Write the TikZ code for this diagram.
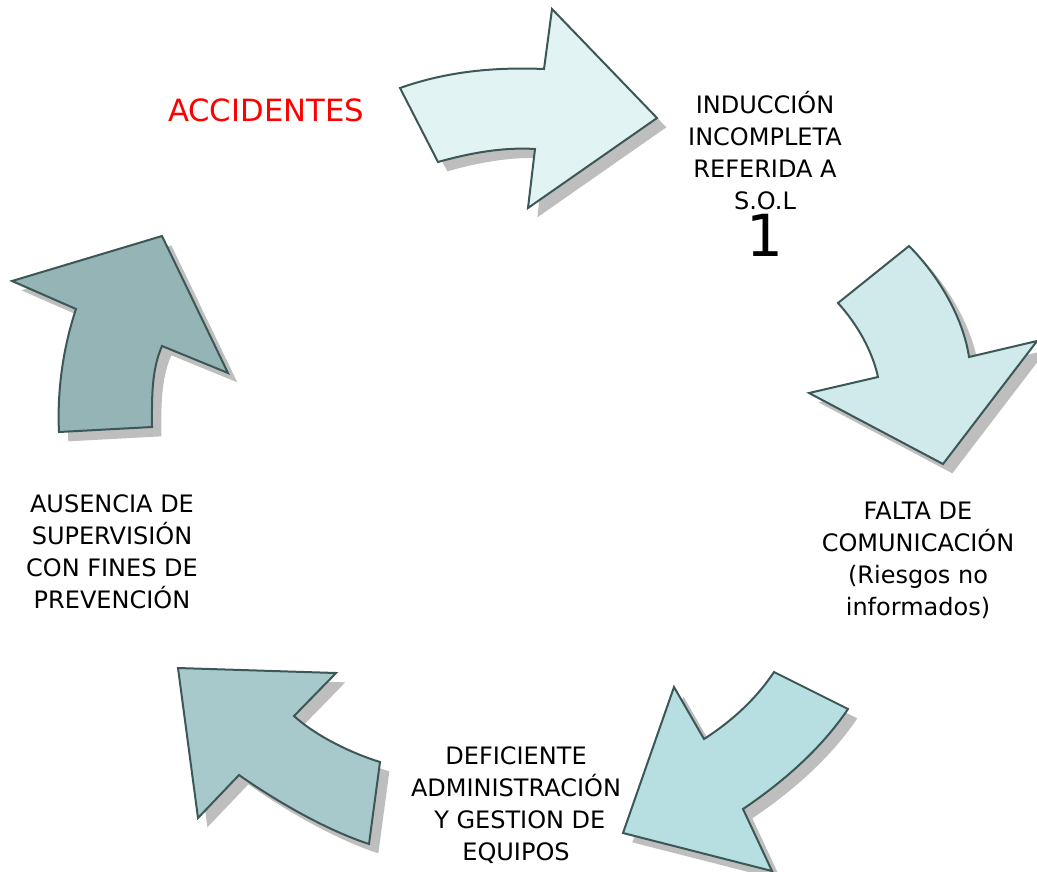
\documentclass[tikz,border=0pt]{standalone}
\usepackage{fontspec}
\setmainfont{DejaVu Sans}
\usetikzlibrary{positioning}

\definecolor{arrowA}{HTML}{E2F3F3}
\definecolor{arrowB}{HTML}{D0E9EB}
\definecolor{arrowC}{HTML}{B7DFE2}
\definecolor{arrowD}{HTML}{A7C9CB}
\definecolor{arrowE}{HTML}{94B4B6}
\definecolor{edgegray}{HTML}{3D5656}
\definecolor{shadowgray}{HTML}{BEBEBE}

\begin{document}
\begin{tikzpicture}[x=0.75pt, y=-0.75pt,
    cyclearrow/.style={draw=edgegray, line width=1.5pt, line join=miter,
        preaction={fill=shadowgray, transform canvas={xshift=7pt, yshift=-7pt}}},
    cyclelabel/.style={font=\fontsize{18pt}{24pt}\selectfont, align=center, inner sep=0pt, anchor=base}]
    \useasboundingbox (0,0) rectangle (1037,871);

    % Arrows of the cycle
    \filldraw[cyclearrow, fill=arrowA] (400,88) .. controls (448,71) and (496,67) .. (544,69)
        -- (552,9) -- (657,118) -- (528,208) -- (535,149)
        .. controls (503,147) and (470,153) .. (438,162) -- cycle;
    \filldraw[cyclearrow, fill=arrowB] (909,246) .. controls (938,275) and (963,317) .. (969,357)
        -- (1037,341) -- (943,464) -- (809,393) -- (878,377)
        .. controls (872,350) and (857,324) .. (838,303) -- cycle;
    \filldraw[cyclearrow, fill=arrowC] (704,739) .. controls (732,721) and (756,699) .. (774,672)
        -- (848,709) .. controls (821,749) and (783,782) .. (743,809)
        -- (772,871) -- (623,833) -- (674,687) -- cycle;
    \filldraw[cyclearrow, fill=arrowD] (178,668) -- (336,673) -- (294,716)
        .. controls (316,736) and (351,753) .. (380,762) -- (369,844)
        .. controls (326,830) and (276,801) .. (239,775) -- (198,818) -- cycle;
    \filldraw[cyclearrow, fill=arrowE] (162,236) -- (228,373) -- (162,346)
        .. controls (151,371) and (152,400) .. (152,427) -- (59,432)
        .. controls (57,391) and (63,348) .. (76,309) -- (12,281) -- cycle;

    % Labels (base = last line)
    \node[cyclelabel, text=red, font=\fontsize{23pt}{24pt}\selectfont] (accidentes) at (266,121) {ACCIDENTES};
    \node[cyclelabel] (induccion) at (765,209) {INDUCCIÓN\\INCOMPLETA\\REFERIDA A\\S.O.L};
    \node[font=\fontsize{43.5pt}{44pt}\selectfont, inner sep=0pt, below=3pt of induccion] (uno) {1};
    \node[cyclelabel] (falta) at (918,615) {FALTA DE\\COMUNICACIÓN\\(Riesgos no\\informados)};
    \node[cyclelabel] (deficiente) at (516,860) {DEFICIENTE\\ADMINISTRACIÓN\\\ Y GESTION DE\\EQUIPOS};
    \node[cyclelabel] (ausencia) at (112,608) {AUSENCIA DE\\SUPERVISIÓN\\CON FINES DE\\PREVENCIÓN};
\end{tikzpicture}
\end{document}
